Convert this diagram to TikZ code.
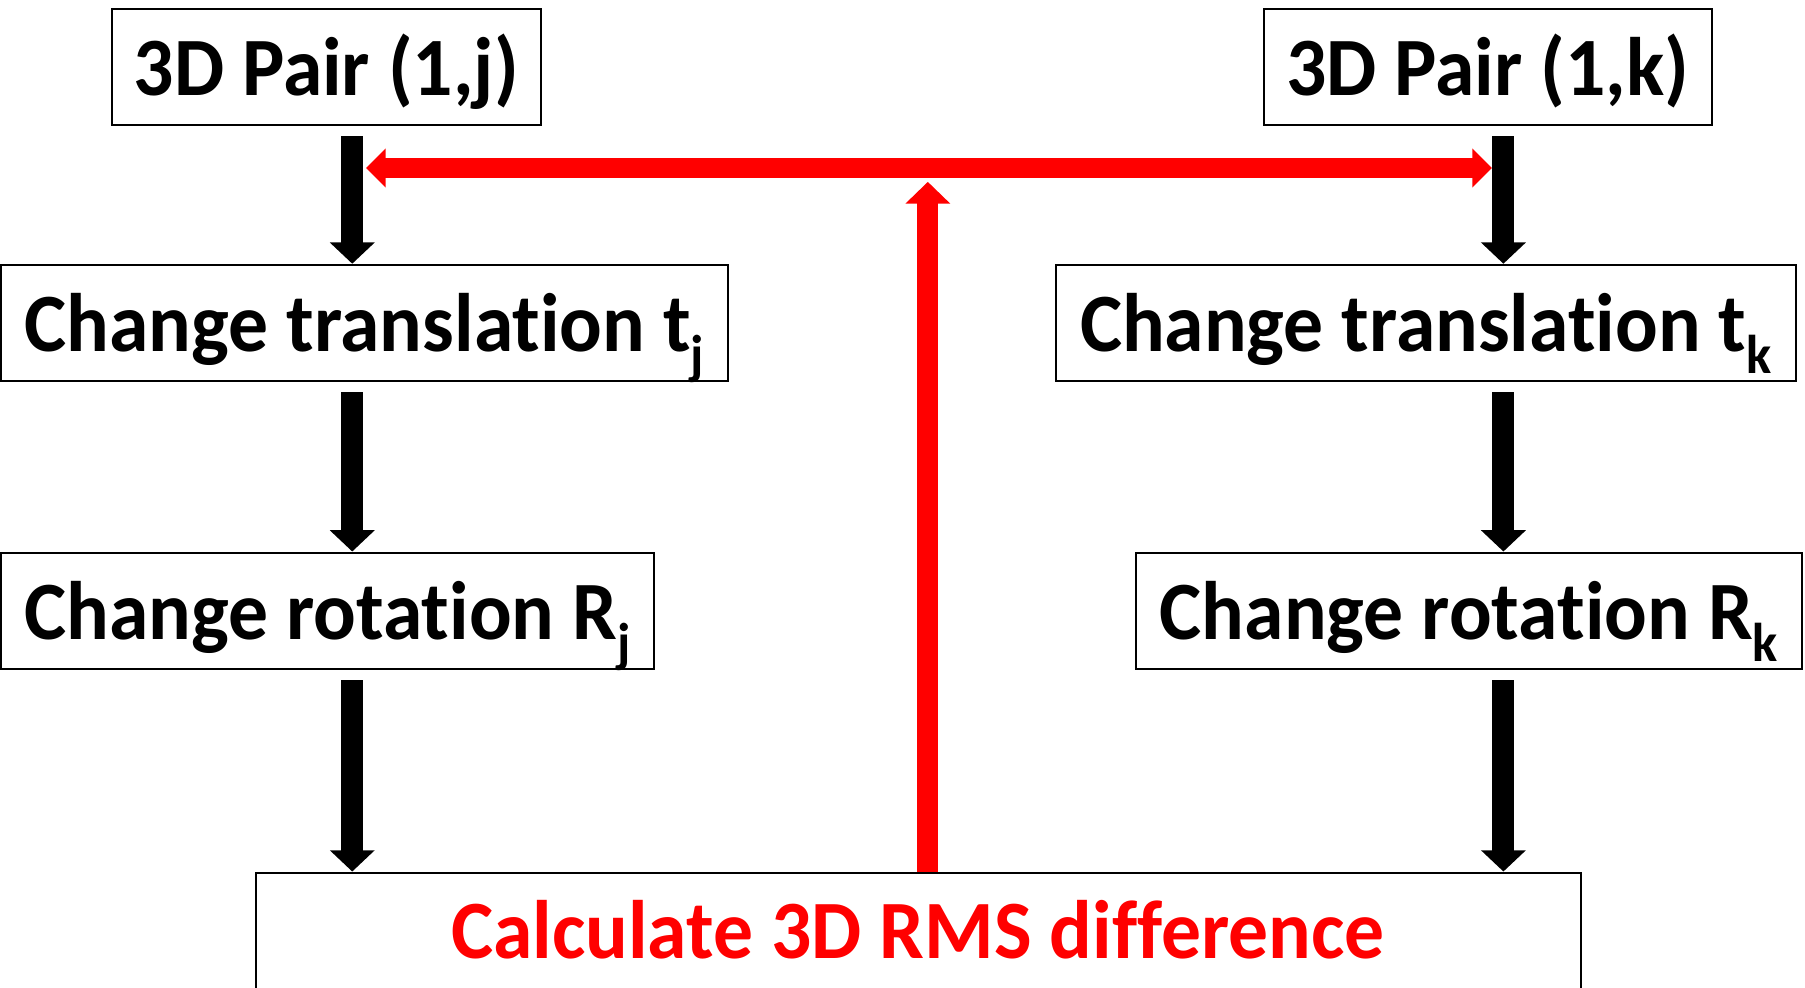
\documentclass[tikz,border=0pt]{standalone}
\usepackage{fontspec}
\setmainfont{Carlito}[Ligatures=NoCommon,FakeStretch=0.96]
\usetikzlibrary{arrows.meta}
\newcommand{\lowsub}[1]{\raisebox{-0.26em}{\fontsize{13.5}{15}\selectfont #1}}
\tikzset{box/.style={rectangle,draw,line width=0.5pt,inner xsep=0pt,inner ysep=0pt,minimum height=1.01cm,text height=0.50cm,text depth=0cm,font=\fontsize{20.5}{25}\selectfont\bfseries}}
\tikzset{blk/.style={line width=0.19cm,-{Triangle[width=0.38cm,length=0.185cm]}}}
\tikzset{redarr/.style={red,line width=0.18cm}}

\begin{document}
\begin{tikzpicture}
      \useasboundingbox (0,0) rectangle (15.68,8.58);
      \coordinate (jcol) at (3.06,0);
      \coordinate (kcol) at (13.06,0);
      \node[box,minimum width=3.73cm] (pairj) at (2.835,8.00) {3D Pair (1,j)};
      \node[box,minimum width=3.89cm] (pairk) at (12.925,8.00) {3D Pair (1,k)};
      \node[box,minimum width=6.31cm] (transj) at (3.165,5.775) {Change translation t\lowsub{j}};
      \node[box,minimum width=6.43cm] (transk) at (12.385,5.775) {Change translation t\lowsub{k}};
      \node[box,minimum width=5.67cm] (rotj) at (2.845,3.275) {Change rotation R\lowsub{j}};
      \node[box,minimum width=5.78cm] (rotk) at (12.76,3.275) {Change rotation R\lowsub{k}};
      \node[box,red,draw=black,minimum width=11.51cm,anchor=base,text height=0.75cm,text depth=0.75cm] (rms) at (7.975,0.25) {Calculate 3D RMS difference};
      \coordinate (lend) at (3.18,7.12);
      \coordinate (rend) at (12.96,7.12);
      \coordinate (top) at (8.06,7.00);
        \draw[blk,shorten <=0.09cm] (pairj.south -| jcol) -- (transj.north -| jcol);
        \draw[blk,shorten <=0.09cm] (transj.south -| jcol) -- (rotj.north -| jcol);
        \draw[blk,shorten <=0.09cm] (rotj.south -| jcol) -- (rms.north -| jcol);
        \draw[blk,shorten <=0.09cm] (pairk.south -| kcol) -- (transk.north -| kcol);
        \draw[blk,shorten <=0.09cm] (transk.south -| kcol) -- (rotk.north -| kcol);
        \draw[blk,shorten <=0.09cm] (rotk.south -| kcol) -- (rms.north -| kcol);
        \draw[redarr,{Triangle[width=0.33cm,length=0.17cm]}-{Triangle[width=0.33cm,length=0.17cm]}] (lend) -- (rend);
        \draw[redarr,-{Triangle[width=0.38cm,length=0.19cm]}] (rms.north -| top) -- (top);
    \end{tikzpicture}
\end{document}
